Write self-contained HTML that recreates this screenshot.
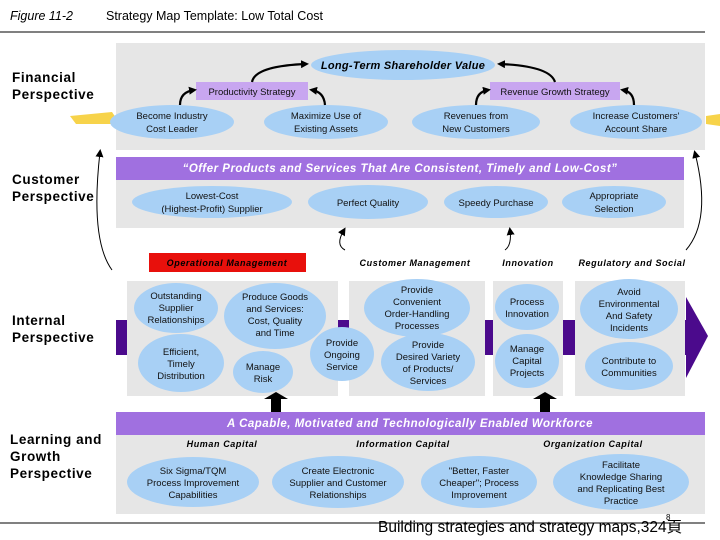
<!DOCTYPE html>
<html><head><meta charset="utf-8"><style>
html,body{margin:0;padding:0;background:#fff}
svg{display:block}
text{font-family:"Liberation Sans",Arial,sans-serif}
.e{fill:#a8d0f5}
.g{fill:#e6e6e6}
.t{font-size:9.5px;fill:#111;text-anchor:middle}
.bi{font-size:10px;font-weight:bold;font-style:italic;fill:#000;text-anchor:middle;letter-spacing:0.6px}
.wh{font-size:11.5px;font-weight:bold;font-style:italic;fill:#fff;text-anchor:middle;letter-spacing:0.5px}
.lab{font-size:13.5px;font-weight:bold;fill:#000;letter-spacing:0.6px}
.c{fill:none;stroke:#000;stroke-width:2.2}
.cl{fill:none;stroke:#000;stroke-width:1}
</style></head><body>
<svg width="720" height="540" viewBox="0 0 720 540" xmlns="http://www.w3.org/2000/svg">
<defs>
<marker id="ah" markerWidth="8" markerHeight="8" refX="5" refY="4" orient="auto" markerUnits="userSpaceOnUse"><path d="M0,0 L8,4 L0,8 z" fill="#000"/></marker>
</defs>
<text x="10" y="20" style="font-size:12.5px;font-style:italic">Figure 11-2</text>
<text x="106" y="20" style="font-size:12.5px">Strategy Map Template: Low Total Cost</text>
<line x1="0" y1="32" x2="705" y2="32" stroke="#000" stroke-width="1"/>

<!-- left labels -->
<text class="lab" x="12" y="82">Financial</text><text class="lab" x="12" y="99">Perspective</text>
<text class="lab" x="12" y="184">Customer</text><text class="lab" x="12" y="201">Perspective</text>
<text class="lab" x="12" y="325">Internal</text><text class="lab" x="12" y="342">Perspective</text>
<text class="lab" x="10" y="444">Learning and</text><text class="lab" x="10" y="461">Growth</text><text class="lab" x="10" y="478">Perspective</text>

<!-- yellow arrows -->
<path d="M70,116 L112,112 L116,118 L112,124 L76,124 Z" fill="#f7d34a"/>
<path d="M706,116 L720,114 L720,126 L706,124 Z" fill="#f7d34a"/>

<!-- financial -->
<rect class="g" x="116" y="43" width="589" height="107"/>
<ellipse class="e" cx="403" cy="65" rx="92" ry="15"/>
<text x="403" y="69" class="bi" style="font-size:11px;letter-spacing:0.3px">Long-Term Shareholder Value</text>
<rect x="196" y="82" width="112" height="18" fill="#c8a6f0"/>
<text class="t" x="252" y="95">Productivity Strategy</text>
<rect x="490" y="82" width="130" height="18" fill="#c8a6f0"/>
<text class="t" x="555" y="95">Revenue Growth Strategy</text>
<ellipse class="e" cx="172" cy="122" rx="62" ry="17"/>
<text class="t" x="172" y="119">Become Industry</text><text class="t" x="172" y="132">Cost Leader</text>
<ellipse class="e" cx="326" cy="122" rx="62" ry="17"/>
<text class="t" x="326" y="119">Maximize Use of</text><text class="t" x="326" y="132">Existing Assets</text>
<ellipse class="e" cx="476" cy="122" rx="64" ry="17"/>
<text class="t" x="476" y="119">Revenues from</text><text class="t" x="476" y="132">New Customers</text>
<ellipse class="e" cx="636" cy="122" rx="66" ry="17"/>
<text class="t" x="636" y="119">Increase Customers'</text><text class="t" x="636" y="132">Account Share</text>
<path class="c" d="M180,105 Q180,92 194,90" marker-end="url(#ah)"/>
<path class="c" d="M325,105 Q324,92 312,90" marker-end="url(#ah)"/>
<path class="c" d="M252,82 Q255,66 306,64" marker-end="url(#ah)"/>
<path class="c" d="M476,105 Q476,92 488,90" marker-end="url(#ah)"/>
<path class="c" d="M634,105 Q634,92 623,90" marker-end="url(#ah)"/>
<path class="c" d="M555,82 Q550,66 500,64" marker-end="url(#ah)"/>

<!-- customer -->
<rect x="116" y="157" width="568" height="23" fill="#a070e0"/>
<text class="wh" x="400" y="172">“Offer Products and Services That Are Consistent, Timely and Low-Cost”</text>
<rect class="g" x="116" y="180" width="568" height="48"/>
<ellipse class="e" cx="212" cy="202" rx="80" ry="16"/>
<text class="t" x="212" y="199">Lowest-Cost</text><text class="t" x="212" y="212">(Highest-Profit) Supplier</text>
<ellipse class="e" cx="368" cy="202" rx="60" ry="17"/>
<text class="t" x="368" y="206">Perfect Quality</text>
<ellipse class="e" cx="496" cy="202" rx="52" ry="16"/>
<text class="t" x="496" y="206">Speedy Purchase</text>
<ellipse class="e" cx="614" cy="202" rx="52" ry="16"/>
<text class="t" x="614" y="199">Appropriate</text><text class="t" x="614" y="212">Selection</text>

<!-- connector curves -->
<path class="cl" d="M112,270 Q90,240 100,152" marker-end="url(#ah)"/>
<path class="cl" d="M345,250 Q335,245 344,230" marker-end="url(#ah)"/>
<path class="cl" d="M505,250 Q512,245 510,230" marker-end="url(#ah)"/>
<path class="cl" d="M686,250 Q712,220 695,153" marker-end="url(#ah)"/>

<!-- internal -->
<rect x="149" y="253" width="157" height="19" fill="#e8100c"/>
<text class="bi" x="227" y="266" style="font-size:9px">Operational Management</text>
<text class="bi" x="415" y="266" style="font-size:9px">Customer Management</text>
<text class="bi" x="528" y="266" style="font-size:9px">Innovation</text>
<text class="bi" x="632" y="266" style="font-size:9px">Regulatory and Social</text>
<rect x="116" y="320" width="576" height="35" fill="#4b0a8c"/>
<path d="M686,297 L708,336 L686,378 Z" fill="#4b0a8c"/>
<rect class="g" x="127" y="281" width="211" height="115"/>
<rect class="g" x="349" y="281" width="136" height="115"/>
<rect class="g" x="493" y="281" width="70" height="115"/>
<rect class="g" x="575" y="281" width="110" height="115"/>
<ellipse class="e" cx="176" cy="308" rx="42" ry="25"/>
<text class="t" x="176" y="299">Outstanding</text><text class="t" x="176" y="311">Supplier</text><text class="t" x="176" y="323">Relationships</text>
<ellipse class="e" cx="275" cy="316" rx="51" ry="33"/>
<text class="t" x="275" y="300">Produce Goods</text><text class="t" x="275" y="312">and Services:</text><text class="t" x="275" y="324">Cost, Quality</text><text class="t" x="275" y="336">and Time</text>
<ellipse class="e" cx="181" cy="363" rx="43" ry="29"/>
<text class="t" x="181" y="355">Efficient,</text><text class="t" x="181" y="367">Timely</text><text class="t" x="181" y="379">Distribution</text>
<ellipse class="e" cx="263" cy="372" rx="30" ry="21"/>
<text class="t" x="263" y="370">Manage</text><text class="t" x="263" y="382">Risk</text>
<ellipse class="e" cx="342" cy="354" rx="32" ry="27"/>
<text class="t" x="342" y="346">Provide</text><text class="t" x="342" y="358">Ongoing</text><text class="t" x="342" y="370">Service</text>
<ellipse class="e" cx="417" cy="308" rx="53" ry="29"/>
<text class="t" x="417" y="293">Provide</text><text class="t" x="417" y="305">Convenient</text><text class="t" x="417" y="317">Order-Handling</text><text class="t" x="417" y="329">Processes</text>
<ellipse class="e" cx="428" cy="362" rx="47" ry="29"/>
<text class="t" x="428" y="348">Provide</text><text class="t" x="428" y="360">Desired Variety</text><text class="t" x="428" y="372">of Products/</text><text class="t" x="428" y="384">Services</text>
<ellipse class="e" cx="527" cy="307" rx="32" ry="23"/>
<text class="t" x="527" y="305">Process</text><text class="t" x="527" y="317">Innovation</text>
<ellipse class="e" cx="527" cy="361" rx="32" ry="27"/>
<text class="t" x="527" y="352">Manage</text><text class="t" x="527" y="364">Capital</text><text class="t" x="527" y="376">Projects</text>
<ellipse class="e" cx="629" cy="309" rx="49" ry="30"/>
<text class="t" x="629" y="295">Avoid</text><text class="t" x="629" y="307">Environmental</text><text class="t" x="629" y="319">And Safety</text><text class="t" x="629" y="331">Incidents</text>
<ellipse class="e" cx="629" cy="366" rx="44" ry="24"/>
<text class="t" x="629" y="364">Contribute to</text><text class="t" x="629" y="376">Communities</text>

<!-- up arrows -->
<path d="M271,412 L271,399 L264,399 L276,392 L288,399 L281,399 L281,412 Z" fill="#000"/>
<path d="M540,412 L540,399 L533,399 L545,392 L557,399 L550,399 L550,412 Z" fill="#000"/>

<!-- learning -->
<rect x="116" y="412" width="589" height="23" fill="#a070e0"/>
<text class="wh" x="410" y="427">A Capable, Motivated and Technologically Enabled Workforce</text>
<rect class="g" x="116" y="435" width="589" height="79"/>
<text class="bi" x="222" y="447" style="font-size:9px">Human Capital</text>
<text class="bi" x="403" y="447" style="font-size:9px">Information Capital</text>
<text class="bi" x="593" y="447" style="font-size:9px">Organization Capital</text>
<ellipse class="e" cx="193" cy="482" rx="66" ry="25"/>
<text class="t" x="193" y="474">Six Sigma/TQM</text><text class="t" x="193" y="486">Process Improvement</text><text class="t" x="193" y="498">Capabilities</text>
<ellipse class="e" cx="338" cy="482" rx="66" ry="26"/>
<text class="t" x="338" y="474">Create Electronic</text><text class="t" x="338" y="486">Supplier and Customer</text><text class="t" x="338" y="498">Relationships</text>
<ellipse class="e" cx="479" cy="482" rx="58" ry="26"/>
<text class="t" x="479" y="474">"Better, Faster</text><text class="t" x="479" y="486">Cheaper"; Process</text><text class="t" x="479" y="498">Improvement</text>
<ellipse class="e" cx="621" cy="482" rx="68" ry="28"/>
<text class="t" x="621" y="468">Facilitate</text><text class="t" x="621" y="480">Knowledge Sharing</text><text class="t" x="621" y="492">and Replicating Best</text><text class="t" x="621" y="504">Practice</text>

<line x1="0" y1="523" x2="705" y2="523" stroke="#000" stroke-width="1"/>
<text x="378" y="532" style="font-size:15.5px;font-family:'Liberation Sans','Noto Sans CJK TC',sans-serif;fill:#000">Building strategies and strategy maps,324頁</text>
<text x="666" y="520" style="font-size:8px">8</text>
</svg>
</body></html>
